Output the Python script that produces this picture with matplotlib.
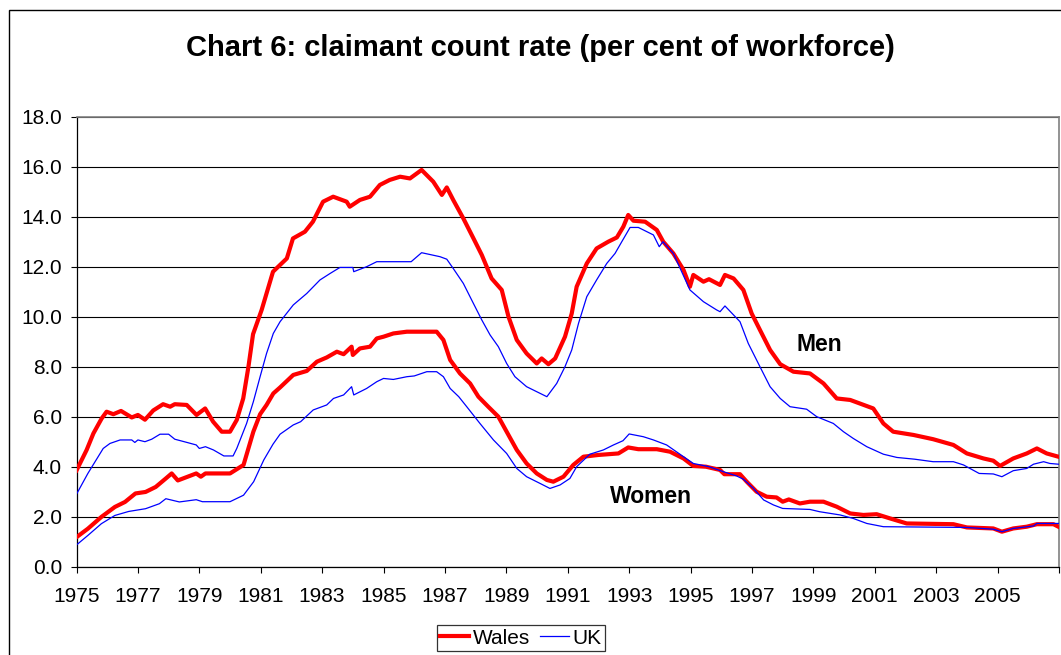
import matplotlib
matplotlib.use("Agg")
import matplotlib.pyplot as plt
from matplotlib.patches import Rectangle
from matplotlib.lines import Line2D

plt.rcParams['font.family'] = ['Liberation Sans', 'DejaVu Sans']

# ---------------- data ----------------
wales_men_years = [1975.0, 1975.33, 1975.55, 1975.82, 1975.98, 1976.2, 1976.45, 1976.8, 1977.0, 1977.23,
                   1977.5, 1977.82, 1978.05, 1978.2, 1978.59, 1978.91, 1979.19, 1979.45, 1979.73, 1980.0,
                   1980.22, 1980.43, 1980.6, 1980.75, 1981.03, 1981.4, 1981.85, 1982.05, 1982.44, 1982.7,
                   1983.03, 1983.36, 1983.8, 1983.9, 1984.23, 1984.56, 1984.88, 1985.2, 1985.54, 1985.86,
                   1986.24, 1986.62, 1986.9, 1987.06, 1987.27, 1987.6, 1987.93, 1988.2, 1988.52, 1988.85,
                   1989.07, 1989.34, 1989.66, 1989.99, 1990.15, 1990.37, 1990.59, 1990.91, 1991.13, 1991.29,
                   1991.62, 1991.94, 1992.32, 1992.6, 1992.81, 1992.97, 1993.14, 1993.52, 1993.9, 1994.11,
                   1994.44, 1994.77, 1994.98, 1995.09, 1995.42, 1995.6, 1995.96, 1996.12, 1996.4, 1996.72,
                   1996.99, 1997.26, 1997.59, 1997.92, 1998.35, 1998.89, 1999.33, 1999.76, 2000.2, 2000.95,
                   2001.28, 2001.6, 2002.26, 2002.9, 2003.56, 2004.0, 2004.54, 2004.86, 2005.08, 2005.51,
                   2005.95, 2006.28, 2006.6, 2006.98]
wales_men = [3.85, 4.67, 5.33, 5.93, 6.2, 6.1, 6.23, 5.97, 6.07, 5.88,
             6.25, 6.5, 6.4, 6.5, 6.47, 6.07, 6.33, 5.8, 5.4, 5.4,
             5.87, 6.73, 8.0, 9.3, 10.27, 11.8, 12.33, 13.13, 13.4, 13.8,
             14.6, 14.8, 14.6, 14.4, 14.67, 14.8, 15.27, 15.47, 15.6, 15.53,
             15.87, 15.4, 14.87, 15.17, 14.67, 13.93, 13.13, 12.47, 11.53, 11.07,
             10.0, 9.07, 8.53, 8.13, 8.33, 8.1, 8.33, 9.2, 10.13, 11.2,
             12.13, 12.73, 13.0, 13.17, 13.6, 14.07, 13.84, 13.8, 13.47, 13.0,
             12.53, 11.87, 11.2, 11.67, 11.4, 11.5, 11.27, 11.67, 11.53, 11.07,
             10.13, 9.47, 8.67, 8.1, 7.8, 7.73, 7.33, 6.73, 6.67, 6.33,
             5.73, 5.4, 5.27, 5.1, 4.87, 4.53, 4.33, 4.24, 4.03, 4.33,
             4.53, 4.73, 4.53, 4.4]

uk_men_years = [1975.0, 1975.37, 1975.87, 1976.09, 1976.42, 1976.8, 1976.9, 1977.0, 1977.23, 1977.45,
                1977.72, 1978.0, 1978.2, 1978.6, 1978.9, 1979.0, 1979.2, 1979.46, 1979.8, 1980.1,
                1980.22, 1980.54, 1980.76, 1980.98, 1981.19, 1981.41, 1981.63, 1982.06, 1982.5, 1982.93,
                1983.26, 1983.58, 1984.0, 1984.03, 1984.45, 1984.78, 1985.9, 1986.24, 1986.84, 1987.06,
                1987.27, 1987.6, 1987.87, 1988.2, 1988.47, 1988.74, 1989.01, 1989.28, 1989.66, 1989.99,
                1990.32, 1990.64, 1990.91, 1991.13, 1991.35, 1991.62, 1991.94, 1992.27, 1992.54, 1992.76,
                1993.03, 1993.3, 1993.79, 1993.98, 1994.1, 1994.44, 1994.98, 1995.42, 1995.85, 1995.96,
                1996.12, 1996.61, 1996.88, 1997.26, 1997.59, 1997.92, 1998.24, 1998.78, 1999.11, 1999.65,
                1999.98, 2000.3, 2000.74, 2001.28, 2001.72, 2002.3, 2002.9, 2003.56, 2003.89, 2004.4,
                2004.86, 2005.14, 2005.51, 2005.95, 2006.17, 2006.5, 2006.7, 2006.98]
uk_men = [2.9, 3.73, 4.73, 4.93, 5.07, 5.07, 4.97, 5.07, 5.0, 5.1,
          5.3, 5.3, 5.1, 4.97, 4.87, 4.73, 4.8, 4.67, 4.43, 4.43,
          4.73, 5.73, 6.6, 7.6, 8.53, 9.33, 9.8, 10.47, 10.93, 11.47,
          11.73, 11.97, 11.97, 11.8, 12.0, 12.2, 12.2, 12.56, 12.4, 12.3,
          11.93, 11.33, 10.67, 9.87, 9.27, 8.8, 8.13, 7.6, 7.2, 7.0,
          6.8, 7.33, 8.0, 8.67, 9.73, 10.8, 11.47, 12.13, 12.53, 13.0,
          13.57, 13.57, 13.27, 12.8, 13.0, 12.53, 11.07, 10.6, 10.27, 10.2,
          10.43, 9.8, 8.93, 8.0, 7.2, 6.73, 6.4, 6.3, 6.0, 5.73,
          5.4, 5.13, 4.8, 4.5, 4.37, 4.3, 4.2, 4.2, 4.07, 3.73,
          3.71, 3.6, 3.84, 3.93, 4.1, 4.2, 4.13, 4.1]

wales_women_years = [1975.0, 1975.37, 1975.81, 1976.25, 1976.58, 1976.92, 1977.25, 1977.58, 1977.91, 1978.1,
                     1978.3, 1978.9, 1979.05, 1979.2, 1980.0, 1980.44, 1980.76, 1980.98, 1981.19, 1981.41,
                     1981.63, 1982.06, 1982.5, 1982.83, 1983.15, 1983.48, 1983.7, 1983.96, 1984.0, 1984.23,
                     1984.56, 1984.78, 1985.0, 1985.32, 1985.76, 1986.73, 1986.95, 1987.17, 1987.49, 1987.82,
                     1988.09, 1988.41, 1988.74, 1989.01, 1989.34, 1989.66, 1989.99, 1990.32, 1990.53, 1990.86,
                     1991.18, 1991.51, 1992.0, 1992.65, 1992.97, 1993.3, 1993.9, 1994.33, 1994.77, 1995.09,
                     1995.5, 1995.96, 1996.1, 1996.61, 1996.83, 1997.15, 1997.48, 1997.8, 1998.0, 1998.2,
                     1998.56, 1998.89, 1999.33, 1999.76, 2000.2, 2000.63, 2001.06, 2001.5, 2002.04, 2003.56,
                     2004.0, 2004.86, 2005.14, 2005.51, 2005.95, 2006.28, 2006.82, 2006.98]
wales_women = [1.18, 1.52, 1.99, 2.39, 2.59, 2.93, 2.99, 3.19, 3.53, 3.73,
               3.45, 3.73, 3.6, 3.73, 3.73, 4.07, 5.4, 6.1, 6.47, 6.93,
               7.17, 7.67, 7.83, 8.2, 8.37, 8.6, 8.5, 8.8, 8.47, 8.73,
               8.8, 9.13, 9.2, 9.33, 9.4, 9.4, 9.07, 8.27, 7.73, 7.33,
               6.8, 6.4, 6.0, 5.4, 4.67, 4.13, 3.73, 3.47, 3.4, 3.6,
               4.07, 4.4, 4.47, 4.53, 4.77, 4.7, 4.7, 4.6, 4.33, 4.03,
               4.0, 3.87, 3.7, 3.7, 3.4, 3.0, 2.8, 2.77, 2.6, 2.69,
               2.53, 2.6, 2.6, 2.4, 2.13, 2.07, 2.1, 1.93, 1.73, 1.7,
               1.57, 1.53, 1.4, 1.53, 1.6, 1.7, 1.7, 1.6]

uk_women_years = [1975.0, 1975.37, 1975.81, 1976.25, 1976.7, 1977.25, 1977.7, 1977.91, 1978.35, 1978.9,
                  1979.1, 1980.0, 1980.44, 1980.77, 1981.1, 1981.4, 1981.63, 1982.06, 1982.3, 1982.71,
                  1983.15, 1983.37, 1983.7, 1983.96, 1984.03, 1984.45, 1984.78, 1985.0, 1985.32, 1985.76,
                  1986.0, 1986.41, 1986.73, 1986.95, 1987.17, 1987.45, 1987.71, 1988.14, 1988.58, 1989.01,
                  1989.34, 1989.66, 1990.1, 1990.42, 1990.75, 1991.07, 1991.29, 1991.72, 1992.16, 1992.49,
                  1992.8, 1993.0, 1993.46, 1993.79, 1994.22, 1994.77, 1995.09, 1995.6, 1996.07, 1996.5,
                  1996.72, 1997.05, 1997.38, 1997.7, 1998.0, 1998.89, 1999.2, 1999.87, 2000.3, 2000.74,
                  2001.28, 2004.0, 2004.86, 2005.14, 2005.51, 2006.17, 2006.28, 2006.98]
uk_women = [0.87, 1.25, 1.72, 2.05, 2.21, 2.32, 2.52, 2.72, 2.59, 2.68,
            2.6, 2.6, 2.86, 3.4, 4.27, 4.9, 5.3, 5.67, 5.8, 6.27,
            6.47, 6.73, 6.87, 7.2, 6.87, 7.13, 7.4, 7.53, 7.49, 7.6,
            7.63, 7.8, 7.8, 7.6, 7.13, 6.8, 6.4, 5.73, 5.07, 4.53,
            3.93, 3.6, 3.33, 3.13, 3.27, 3.53, 4.0, 4.5, 4.67, 4.87,
            5.04, 5.31, 5.2, 5.07, 4.87, 4.4, 4.13, 4.0, 3.8, 3.63,
            3.5, 3.13, 2.67, 2.47, 2.33, 2.29, 2.2, 2.07, 1.93, 1.73,
            1.6, 1.57, 1.5, 1.4, 1.53, 1.63, 1.73, 1.73]

x_tick_years = list(range(1975, 2008, 2))
x_tick_labels = [str(y) for y in range(1975, 2006, 2)] + [""]
y_ticks = [0, 2, 4, 6, 8, 10, 12, 14, 16, 18]

title = "Chart 6: claimant count rate (per cent of workforce)"

# ---------------- figure ----------------
W, H = 1061, 655
fig = plt.figure(figsize=(W / 100, H / 100), dpi=100)
fig.patch.set_facecolor("white")

# chart-area border
fig.add_artist(Rectangle((8.5 / W, -0.05), 1.2, 1 - 9.5 / H + 0.05,
                         transform=fig.transFigure, fill=False,
                         edgecolor="black", linewidth=1.0))

left, right, top, bottom = 76.5, 1059, 116.7, 566.7
ax = fig.add_axes([left / W, 1 - bottom / H, (right - left) / W, (bottom - top) / H])

red = "#FF0000"
blue = "#0000FF"
ax.plot(wales_men_years, wales_men, color=red, lw=3.0, solid_joinstyle="round", zorder=3)
ax.plot(wales_women_years, wales_women, color=red, lw=3.0, solid_joinstyle="round", zorder=3)
ax.plot(uk_men_years, uk_men, color=blue, lw=0.9, zorder=4)
ax.plot(uk_women_years, uk_women, color=blue, lw=0.9, zorder=4)

ax.set_xlim(1975, 2007)
ax.set_ylim(0, 18)
ax.set_yticks(y_ticks)
ax.set_yticklabels([f"{v:.1f}" for v in y_ticks])
ax.set_xticks(x_tick_years)
ax.set_xticklabels(x_tick_labels)

ax.grid(axis="y", color="black", linewidth=0.8)
ax.set_axisbelow(True)
ax.tick_params(axis="both", labelsize=15, direction="out", length=4.5, width=0.8, colors="black")
ax.tick_params(axis="y", pad=6)
ax.tick_params(axis="x", pad=10)

for s in ["left", "bottom"]:
    ax.spines[s].set_color("black")
    ax.spines[s].set_linewidth(0.9)
for s in ["top", "right"]:
    ax.spines[s].set_color("#808080")
    ax.spines[s].set_linewidth(1.2)

ax.text(1999.19, 8.87, "Men", fontsize=16.5, fontweight="bold", ha="center", va="center")
ax.text(1993.71, 2.79, "Women", fontsize=16.5, fontweight="bold", ha="center", va="center")

fig.text(540 / W, 1 - 48 / H, title, fontsize=21, fontweight="bold", ha="center", va="center")

handles = [Line2D([], [], color=red, lw=3.0), Line2D([], [], color=blue, lw=0.9)]
leg = fig.legend(handles, ["Wales", "UK"], loc="center", bbox_to_anchor=(521 / W, 1 - 638 / H),
                 ncol=2, fontsize=15, frameon=True, fancybox=False, edgecolor="black",
                 handlelength=1.4, handletextpad=0.15, columnspacing=0.5, borderpad=0.15,
                 borderaxespad=0)
leg.get_frame().set_linewidth(0.9)

fig.savefig("out.png", dpi=100)
